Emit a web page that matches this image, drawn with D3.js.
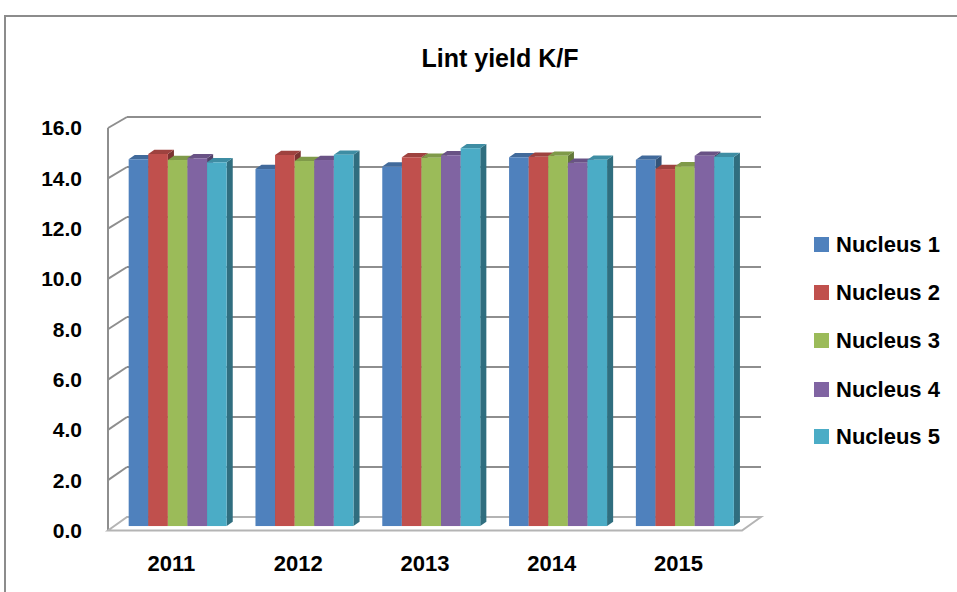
<!DOCTYPE html>
<html>
<head>
<meta charset="utf-8">
<script src="https://cdn.jsdelivr.net/npm/d3@7"></script>
<style>
  html, body { margin: 0; padding: 0; background: #fff; }
  svg { display: block; }
  text { font-family: "Liberation Sans", Arial, sans-serif; font-weight: bold; fill: #000; }
</style>
</head>
<body>
<svg id="chart" width="957" height="592"></svg>
<script>
// ---- data ----
const title = "Lint yield K/F";
const categories = ["2011", "2012", "2013", "2014", "2015"];
const seriesNames = ["Nucleus 1", "Nucleus 2", "Nucleus 3", "Nucleus 4", "Nucleus 5"];
const nucleus1 = [14.61, 14.22, 14.32, 14.69, 14.59];
const nucleus2 = [14.82, 14.78, 14.69, 14.71, 14.22];
const nucleus3 = [14.58, 14.54, 14.67, 14.75, 14.33];
const nucleus4 = [14.65, 14.58, 14.77, 14.47, 14.75];
const nucleus5 = [14.49, 14.79, 15.05, 14.59, 14.70];
const yTicks = [0, 2, 4, 6, 8, 10, 12, 14, 16];
const colors = ["#4F81BD", "#C0504D", "#9BBB59", "#8064A2", "#4BACC6"];

const seriesValues = [nucleus1, nucleus2, nucleus3, nucleus4, nucleus5];

// ---- layout (pseudo-3D projection) ----
const svg = d3.select("#chart");
const frontLeft = 108, frontRight = 742;
const depthDX = 19, depthDY = -13.5;     // full floor depth offset
const barF1 = 0.33, barF2 = 0.65;        // bar front / back depth fractions

const x0 = d3.scaleBand().domain(categories).range([frontLeft, frontRight]).padding(0);
const x1 = d3.scaleBand().domain(seriesNames).range([0, x0.bandwidth()]).paddingInner(0).paddingOuter(0.735);

// value scale at a given depth fraction
function yAt(f) {
  return d3.scaleLinear().domain([0, 16]).range([530.5 + depthDY * f, 128 - 11 * f]);
}
const yFront = yAt(0), yBack = yAt(1);

// outer border
svg.append("rect").attr("x", 5).attr("y", 16).attr("width", 1000).attr("height", 700)
  .attr("fill", "none").attr("stroke", "#8c8c8c").attr("stroke-width", 2);

// title
svg.append("text").attr("x", 500).attr("y", 58).attr("dy", "0.35em")
  .attr("text-anchor", "middle").style("font-size", "25px").text(title);

// gridlines: back wall + left wall diagonals
const grid = svg.append("g").attr("stroke", "#8e8e8e").attr("stroke-width", 2).attr("fill", "none");
yTicks.filter(v => v > 0).forEach(v => {
  grid.append("line").attr("x1", frontLeft + depthDX).attr("x2", frontRight + depthDX)
    .attr("y1", yBack(v)).attr("y2", yBack(v));
  grid.append("line").attr("x1", frontLeft).attr("x2", frontLeft + depthDX)
    .attr("y1", yFront(v)).attr("y2", yBack(v));
});
// front vertical axis
grid.append("line").attr("x1", frontLeft).attr("x2", frontLeft)
  .attr("y1", yFront(0)).attr("y2", yFront(16));

// floor
svg.append("path")
  .attr("d", d3.line()([
    [frontLeft, yFront(0)], [frontRight, yFront(0)],
    [frontRight + depthDX, yBack(0)], [frontLeft + depthDX, yBack(0)]
  ]) + "Z")
  .attr("fill", "none").attr("stroke", "#b4b4b4").attr("stroke-width", 2);

// bars
const yF = yAt(barF1), yB = yAt(barF2);
const ddx = depthDX * (barF2 - barF1), ddy = depthDY * (barF2 - barF1);
const barsG = svg.append("g");
categories.forEach((cat, ci) => {
  seriesNames.forEach((s, si) => {
    const v = seriesValues[si][ci];
    const c = d3.color(colors[si]);
    const xl = x0(cat) + x1(s) + depthDX * barF1;
    const w = x1.bandwidth();
    const yt = yF(v), yb = yF(0);
    const g = barsG.append("g");
    // side face
    g.append("path").attr("d", d3.line()([
      [xl + w, yt], [xl + w + ddx, yt + ddy], [xl + w + ddx, yb + ddy], [xl + w, yb]
    ]) + "Z").attr("fill", c.darker(1.25).formatHex());
    // top face
    g.append("path").attr("d", d3.line()([
      [xl, yt], [xl + ddx, yt + ddy], [xl + w + ddx, yt + ddy], [xl + w, yt]
    ]) + "Z").attr("fill", c.darker(0.55).formatHex());
    // front face
    g.append("rect").attr("x", xl).attr("y", yt).attr("width", w).attr("height", yb - yt)
      .attr("fill", colors[si]);
  });
});

// y tick labels
svg.append("g").selectAll("text").data(yTicks).join("text")
  .attr("x", 82).attr("y", d => yFront(d)).attr("dy", "0.35em")
  .attr("text-anchor", "end").style("font-size", "21px")
  .text(d => d3.format(".1f")(d));

// category labels
svg.append("g").selectAll("text").data(categories).join("text")
  .attr("x", d => x0(d) + x0.bandwidth() / 2).attr("y", 563).attr("dy", "0.35em")
  .attr("text-anchor", "middle").style("font-size", "22px")
  .text(d => d);

// legend
const legendY = [244.5, 292.5, 340.5, 389.5, 436.5];
const lg = svg.append("g");
seriesNames.forEach((s, i) => {
  lg.append("rect").attr("x", 814).attr("y", legendY[i] - 7.5).attr("width", 15).attr("height", 15)
    .attr("fill", colors[i]);
  lg.append("text").attr("x", 836).attr("y", legendY[i]).attr("dy", "0.35em")
    .style("font-size", "22px").text(s);
});
</script>
</body>
</html>
